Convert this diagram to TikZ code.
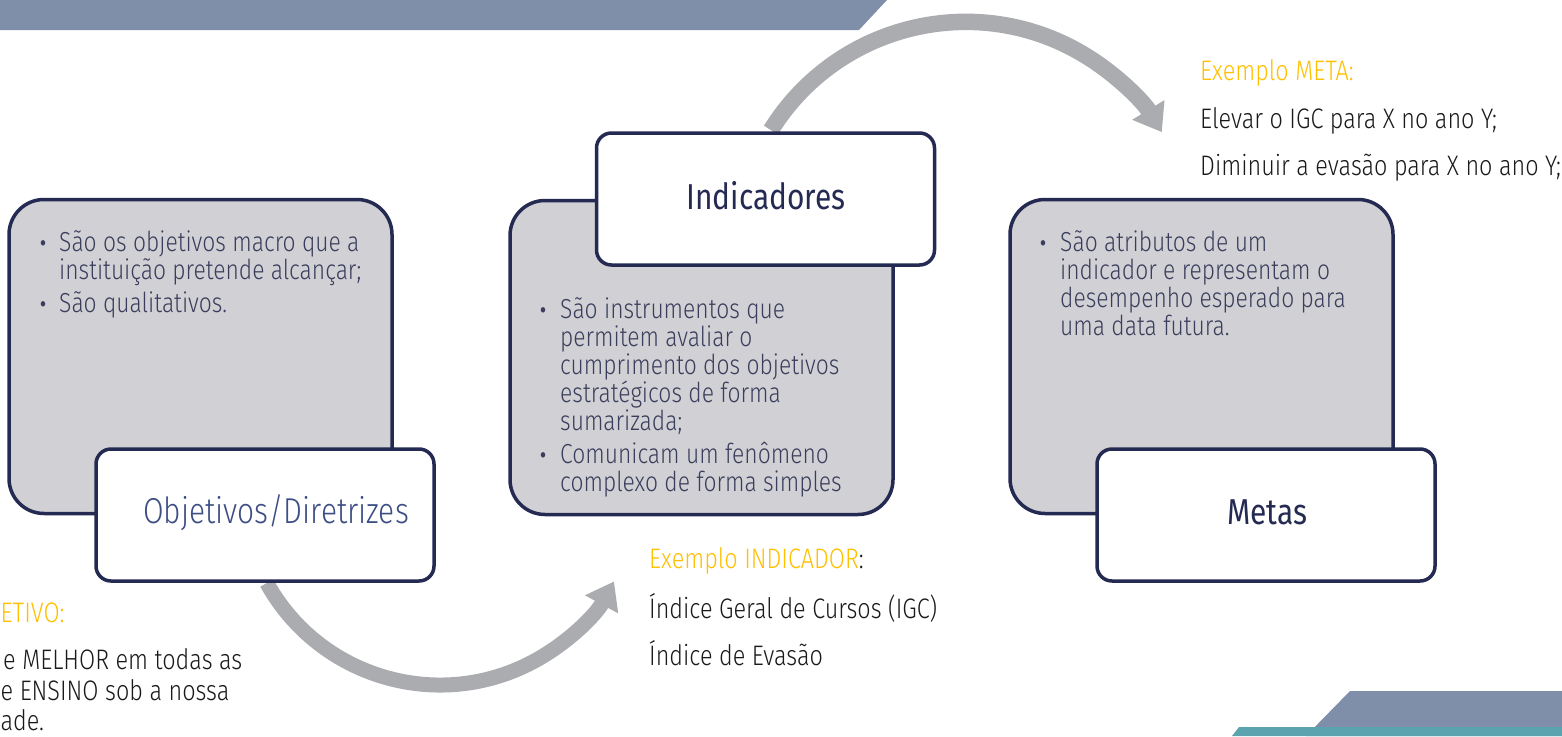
\documentclass[tikz,border=0pt]{standalone}
\usepackage{fontspec}
\setmainfont{Fira Sans Light}[FakeStretch=0.83]
\newfontfamily\regf{Fira Sans}[FakeStretch=0.83]
\usetikzlibrary{arrows.meta}
\definecolor{navy}{HTML}{252A52}
\definecolor{boxgray}{HTML}{D1D1D5}
\definecolor{bultext}{HTML}{3A3E5C}
\definecolor{titleblue}{HTML}{3D4E85}
\definecolor{arrowgray}{HTML}{ABACB0}
\definecolor{bargray}{HTML}{7F8FAA}
\definecolor{tealband}{HTML}{5AA3AF}
\definecolor{exyellow}{HTML}{FFC000}
\definecolor{extext}{HTML}{1A1A1A}
\tikzset{
  graybox/.style={draw=navy, line width=3.5pt, fill=boxgray, rounded corners=35pt,
    inner sep=0pt, minimum width=383pt, minimum height=314pt},
  whitebox/.style={draw=navy, line width=3.5pt, fill=white, rounded corners=15pt,
    inner sep=0pt, minimum width=338pt, minimum height=132pt},
  bultxt/.style={inner sep=0pt, anchor=base west, text=bultext, font=\fontsize{27.5pt}{28pt}\selectfont},
  bulldot/.style={inner sep=0pt, anchor=base, text=bultext, font=\regf\fontsize{24pt}{24pt}\selectfont},
  boxtitle/.style={inner sep=0pt, anchor=base, font=\fontsize{36pt}{40pt}\selectfont},
  extitle/.style={inner sep=0pt, anchor=base west, text=exyellow, font=\fontsize{28.2pt}{30pt}\selectfont},
  exline/.style={inner sep=0pt, anchor=base west, text=extext, font=\fontsize{28.2pt}{30pt}\selectfont},
  cycarrow/.style={draw=arrowgray, -{Triangle[length=26pt,width=36pt]}},
}
\begin{document}
\begin{tikzpicture}[x=1pt,y=1pt]
\clip (0,0) rectangle (1562,-736);
\fill[white] (0,0) rectangle (1562,-736);
% decorative bars
\fill[bargray] (0,0) -- (887,0) -- (859,-30) -- (0,-30) -- cycle;
\fill[bargray] (1350,-691) -- (1562,-691) -- (1562,-736) -- (1306,-736) -- cycle;
\fill[tealband] (1239,-727) -- (1562,-727) -- (1562,-736) -- (1232,-736) -- cycle;
% cycle arrows (start under the boxes)
\coordinate (a1s) at (266.8,-583);
\coordinate (a2s) at (770.9,-130.1);
\draw[cycarrow, line width=15pt] (a1s) arc[start angle=209, end angle=331.5, radius=198];
\draw[cycarrow, line width=16.5pt] (a2s) arc[start angle=148.1, end angle=31.3, radius=229.5];
% boxes
\node[graybox] (og) at (200.5,-356.5) {};
\node[graybox] (ig) at (701.5,-357.5) {};
\node[graybox] (mg) at (1201.5,-356.5) {};
\node[whitebox] (ow) at (265,-515) {};
\node[whitebox] (iw) at (765.5,-199) {};
\node[whitebox] (mw) at (1266,-515) {};
% titles
\node[boxtitle, text=titleblue] (ot) at (276,-523) {Objetivos/Diretrizes};
\node[boxtitle, text=navy] (it) at (766,-209) {\regf Indicadores};
\node[boxtitle, text=navy] (mt) at (1267,-524) {\regf Metas};
% bullets: objetivos
\node[bulldot] (od1) at (43,-251) {•};
\node[bultxt] (ob1) at (59,-251) {\parbox[t]{330pt}{São os objetivos macro que a\\instituição pretende alcançar;}};
\node[bulldot] (od2) at (43,-312) {•};
\node[bultxt] (ob2) at (59,-312) {São qualitativos.};
% bullets: indicadores
\node[bulldot] (id1) at (543,-318) {•};
\node[bultxt] (ib1) at (560,-318) {\parbox[t]{330pt}{São instrumentos que\\permitem avaliar o\\cumprimento dos objetivos\\estratégicos de forma\\sumarizada;}};
\node[bulldot] (id2) at (543,-463) {•};
\node[bultxt] (ib2) at (560,-463) {\parbox[t]{330pt}{Comunicam um fenômeno\\complexo de forma simples}};
% bullets: metas
\node[bulldot] (md1) at (1043,-251) {•};
\node[bultxt] (mb1) at (1060,-251) {\parbox[t]{330pt}{São atributos de um\\indicador e representam o\\desempenho esperado para\\uma data futura.}};
% example: meta
\node[extitle] (emt) at (1200,-80) {Exemplo META:};
\node[exline] (em1) at (1200,-128) {Elevar o IGC para X no ano Y;};
\node[exline] (em2) at (1200,-175) {Diminuir a evasão para X no ano Y;};
% example: indicador
\node[extitle] (eit) at (649,-568) {Exemplo INDICADOR\textcolor{extext}{:}};
\node[exline] (ei1) at (649,-618) {Índice Geral de Cursos (IGC)};
\node[exline] (ei2) at (649,-665) {Índice de Evasão};
% example: objetivo (at the left edge)
\node[extitle] (eot) at (0.5,-622) {ETIVO:};
\node[exline] (eo1) at (3,-669) {e MELHOR em todas as};
\node[exline] (eo2) at (0.5,-700) {e ENSINO sob a nossa};
\node[exline] (eo3) at (0.5,-730) {ade.};
\end{tikzpicture}
\end{document}
